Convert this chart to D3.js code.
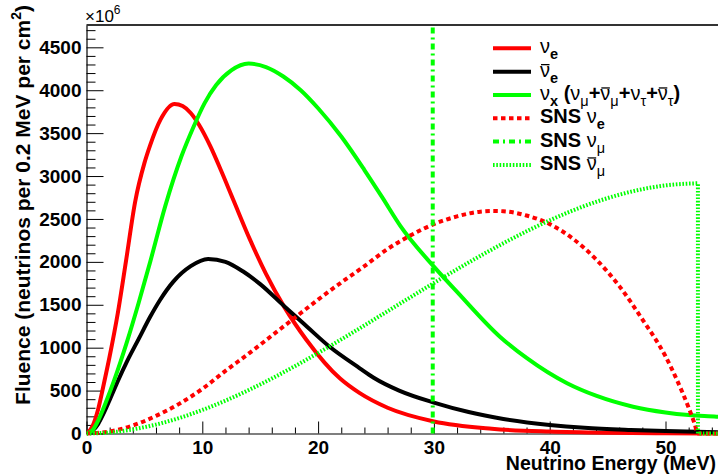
<!DOCTYPE html>
<html><head><meta charset="utf-8">
<script src="https://cdn.jsdelivr.net/npm/d3@7"></script>
<style>
body{margin:0;background:#fff;}
svg{display:block;}
text{font-family:"Liberation Sans",Arial,Helvetica,sans-serif;}
</style></head><body>
<svg id="c" width="718" height="476"></svg>
<script>
// ---- data (energies in MeV, fluence in units of 10^6) ----
const nueE   = [0,0.5,1,1.5,2,2.7,3.4,4.2,5,5.5,6.4,7.6,8.3,9,9.7,10.7,11.6,12.7,14.1,15.5,17.1,19,21.9,23.6,26,30,35,40,45,50,55];
const nueV   = [0,80,280,580,900,1400,2000,2700,3150,3360,3660,3840,3815,3735,3600,3345,3070,2715,2265,1860,1470,1090,640,470,300,140,55,22,8,3,1];

const nuebarE = [0,0.5,1,1.5,2,2.75,3.5,4.5,5.5,6.35,7.5,9,10.5,12,13.5,15,17.1,19,21,23.6,24.8,27,30,33,36,40,43,47,50,55];
const nuebarV = [0,30,110,240,390,624,840,1100,1360,1556,1770,1950,2034,2000,1890,1740,1480,1250,1010,760,650,500,360,250,170,100,66,41,28,14];

const nuxE = [0,0.5,0.9,1.75,2.4,3.5,4.5,5.5,6.8,8.2,9.2,10.2,11.2,12.5,14,15.5,17,18.5,20,22,24,25.5,27.1,30,32,35.7,38,41.5,44,47.2,50,52,54.4,55];
const nuxV = [0,35,122,390,624,1070,1520,2000,2650,3230,3560,3850,4060,4230,4310,4270,4160,4000,3790,3460,3070,2760,2420,1944,1650,1128,880,585,440,312,245,215,196,190];

const snsNueE = [0,2,4,6,8,10,12,14,16,18,20,22,24,26,28,30,32,34,35.2,36,38,40,42,44,46,48,50,51,52,52.5,52.8,55];
const snsNueV = [0,24,93,205,345,520,730,930,1140,1350,1560,1760,1950,2150,2310,2440,2530,2585,2593,2590,2540,2440,2270,2030,1720,1330,900,620,300,120,0,0];

const snsNumuE = [29.9];
const snsNumuV = [12000];

const snsNumubarE = [0,2,4,6,8,10,12,14,16,18,20,22,24,26,28,30,32,34,36,38,40,42,44,46,48,50,52,52.6];
const snsNumubarV = [0,12,48,104,180,274,383,506,641,785,938,1097,1259,1425,1590,1754,1914,2069,2217,2356,2484,2599,2699,2782,2847,2891,2912,2915];
const snsEndpoint = 52.8;

const xTicks = [0,10,20,30,40,50];
const xMinorTicks = [2,4,6,8,12,14,16,18,22,24,26,28,32,34,36,38,42,44,46,48,52,54];
const yTicks = [0,500,1000,1500,2000,2500,3000,3500,4000,4500];
const yMinorTicks = d3.range(0,4800,100).filter(v=>v%500!==0);

const xMax = 55, yMax = 4760;

const legendLabels = [
  [{t:"ν"},{t:"e",sub:1,b:1}],
  [{t:"ν",bar:1},{t:"e",sub:1,b:1}],
  [{t:"ν"},{t:"x",sub:1,b:1},{t:" (",b:1},{t:"ν"},{t:"μ",sub:1},{t:"+",b:1},{t:"ν",bar:1},{t:"μ",sub:1},{t:"+",b:1},{t:"ν"},{t:"τ",sub:1},{t:"+",b:1},{t:"ν",bar:1},{t:"τ",sub:1},{t:")",b:1}],
  [{t:"SNS ",b:1},{t:"ν"},{t:"e",sub:1,b:1}],
  [{t:"SNS ",b:1},{t:"ν"},{t:"μ",sub:1}],
  [{t:"SNS ",b:1},{t:"ν",bar:1},{t:"μ",sub:1}]
];

// ---- drawing ----
const svg = d3.select("#c");
const x = d3.scaleLinear().domain([0,xMax]).range([86.5,723.4]);
const y = d3.scaleLinear().domain([0,yMax]).range([433.5,25]);

svg.append("defs").append("clipPath").attr("id","clip")
  .append("rect").attr("x",x(0)).attr("y",y(yMax)).attr("width",x(xMax)-x(0)).attr("height",y(0)-y(yMax)+5);

function styleAxis(g){
  g.attr("font-family",null).attr("font-size",null);
  g.selectAll("text").style("font-family","'Liberation Sans',Arial,sans-serif").style("font-weight","bold").style("font-size","19px").attr("fill","#000");
  g.selectAll("line").attr("stroke","#000");
}
svg.append("g").attr("transform",`translate(0,${y(0)})`)
  .call(d3.axisBottom(x).tickValues(xMinorTicks).tickSize(-6).tickFormat(""))
  .call(g=>g.select(".domain").remove());
svg.append("g").attr("transform",`translate(0,${y(0)})`)
  .call(d3.axisBottom(x).tickValues(xTicks).tickSize(-12).tickSizeOuter(0).tickPadding(7).tickFormat(d3.format("d")))
  .call(styleAxis)
  .call(g=>g.select(".domain").attr("stroke","#000").attr("stroke-width",1.2));
svg.append("g").attr("transform",`translate(${x(0)},0)`)
  .call(d3.axisLeft(y).tickValues(yMinorTicks).tickSize(-9).tickFormat(""))
  .call(g=>g.select(".domain").remove());
svg.append("g").attr("transform",`translate(${x(0)},0)`)
  .call(d3.axisLeft(y).tickValues(yTicks).tickSize(-17).tickSizeOuter(0).tickPadding(5).tickFormat(d3.format("d")))
  .call(styleAxis)
  .call(g=>g.select(".domain").attr("stroke","#000").attr("stroke-width",1.2));

svg.append("line").attr("x1",x(0)).attr("x2",x(xMax)).attr("y1",y(yMax)).attr("y2",y(yMax))
  .attr("stroke","#333").attr("stroke-width",2);

const plot = svg.append("g").attr("clip-path","url(#clip)");
const smooth = d3.line().x(d=>x(d[0])).y(d=>y(d[1])).curve(d3.curveMonotoneX);
const straight = d3.line().x(d=>x(d[0])).y(d=>y(d[1]));
const zip = (a,b)=>a.map((v,i)=>[v,b[i]]);

const styles = {
  nue:{stroke:"#ff0000",dash:null},
  nuebar:{stroke:"#000000",dash:null},
  nux:{stroke:"#00ff00",dash:null},
  snsNue:{stroke:"#ff0000",dash:"4.5,3.5"},
  snsNumu:{stroke:"#00ff00",dash:"6,4,2,4"},
  snsNumubar:{stroke:"#00ff00",dash:"1.6,1.7"}
};
function draw(pathD, st){
  plot.append("path").attr("d",pathD).attr("fill","none")
    .attr("stroke",st.stroke).attr("stroke-width",4)
    .attr("stroke-dasharray",st.dash);
}
draw(smooth(zip(nueE,nueV)), styles.nue);
draw(smooth(zip(nuebarE,nuebarV)), styles.nuebar);
draw(smooth(zip(nuxE,nuxV)), styles.nux);
draw(smooth(zip(snsNueE,snsNueV)), styles.snsNue);
draw(straight([[snsNumuE[0],0],[snsNumuE[0],snsNumuV[0]]]), styles.snsNumu);
{
  const pts = zip(snsNumubarE,snsNumubarV);
  const last = pts[pts.length-1];
  draw(smooth(pts) + straight([last,[snsEndpoint,last[1]],[snsEndpoint,0],[xMax,0]]).replace(/^M/,"L"), styles.snsNumubar);
}

const mult = svg.append("text").attr("x",85).attr("y",22).attr("font-size",17).attr("fill","#000");
mult.append("tspan").text("×10");
mult.append("tspan").attr("dy",-8).attr("font-size",12).text("6");

svg.append("text").attr("x",716).attr("y",470).attr("text-anchor","end")
  .attr("font-size",19.5).attr("font-weight","bold").text("Neutrino Energy (MeV)");
const yt = svg.append("text").attr("transform","translate(29.5,5) rotate(-90)").attr("text-anchor","end")
  .attr("font-size",21).attr("font-weight","bold");
yt.append("tspan").text("Fluence (neutrinos per 0.2 MeV per cm");
yt.append("tspan").attr("dy",-9).attr("font-size",14).text("2");
yt.append("tspan").attr("dy",9).text(")");

const legendKeys = ["nue","nuebar","nux","snsNue","snsNumu","snsNumubar"];
const lg = svg.append("g");
legendKeys.forEach((k,i)=>{
  const cy = 48.3 + i*23.33;
  const st = styles[k];
  lg.append("line").attr("x1",493).attr("x2",531).attr("y1",cy).attr("y2",cy)
    .attr("stroke",st.stroke).attr("stroke-width",4).attr("stroke-dasharray",st.dash);
  const base = cy + 5;
  const t = lg.append("text").attr("x",540).attr("y",base).attr("font-size",20).attr("fill","#000");
  let cur = 0;
  const bars = [];
  legendLabels[i].forEach(p=>{
    const target = p.sub ? 6 : 0;
    const ts = t.append("tspan").attr("dy",target-cur).text(p.t)
      .attr("font-size", p.sub ? 14.5 : 20)
      .attr("font-weight", p.b ? "bold" : "normal");
    cur = target;
    if(p.bar) bars.push(ts.node());
  });
  bars.forEach(n=>{
    const e = n.getExtentOfChar(0);
    lg.append("line").attr("x1",e.x+1).attr("x2",e.x+e.width-0.5)
      .attr("y1",base-12).attr("y2",base-12).attr("stroke","#000").attr("stroke-width",1.3);
  });
});
</script>
</body></html>
